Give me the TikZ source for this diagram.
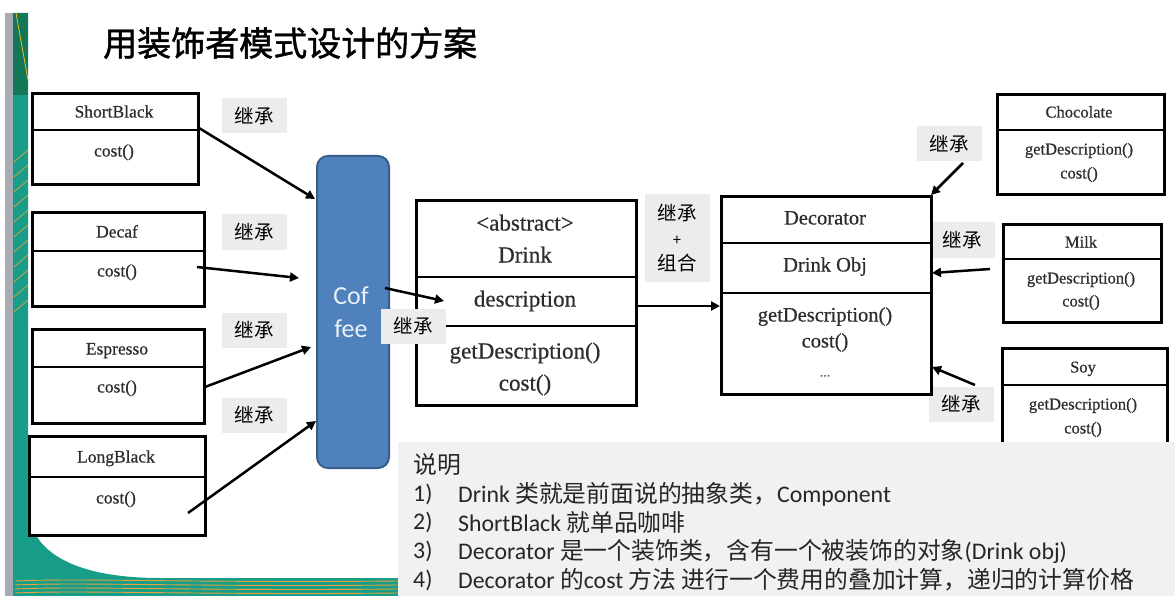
\documentclass[tikz,border=0pt]{standalone}
\usepackage{fontspec}
\usetikzlibrary{arrows.meta}
\setmainfont{Liberation Serif}[FakeBold=0.6]
\newfontfamily\cjk{Noto Sans CJK SC}
\newfontfamily\cjktitle{Noto Sans CJK SC}[FakeBold=1.3]
\newfontfamily\calfont{Carlito}
\definecolor{tealA}{RGB}{24,158,136}
\definecolor{greenA}{RGB}{18,120,88}
\definecolor{stripG}{RGB}{170,170,180}
\definecolor{orangeA}{RGB}{235,160,60}
\definecolor{coffeeF}{RGB}{79,129,189}
\definecolor{coffeeB}{RGB}{56,93,138}
\definecolor{lblbg}{RGB}{236,236,236}
\definecolor{notebg}{RGB}{241,241,241}
\definecolor{txtgray}{RGB}{45,45,45}
\tikzset{
  umlbox/.style={draw=black, line width=2.6pt, inner sep=0pt, anchor=north west, fill=white},
  divl/.style={draw=black, line width=2.6pt},
  utxt/.style={inner sep=0pt, text=txtgray, text height=0.7em, text depth=0.2em, yshift=-4pt},
  tA/.style={utxt, font=\fontsize{17.5}{20}\selectfont},
  tB/.style={utxt, font=\fontsize{23}{26}\selectfont},
  tC/.style={utxt, font=\fontsize{20.5}{24}\selectfont},
  tD/.style={utxt, font=\fontsize{16.5}{19}\selectfont},
  lbl/.style={fill=lblbg, inner sep=0pt, minimum width=65pt, minimum height=35pt, font=\cjk\fontsize{19.5}{22}\selectfont},
  arr/.style={draw=black, line width=2.5pt, -{Triangle[length=9pt,width=9pt]}},
  note/.style={anchor=west, inner sep=0pt, text=black!85, font=\fontsize{23.8}{27}\selectfont},
  notenum/.style={note, font=\calfont\fontsize{23.8}{27}\selectfont}
}
\begin{document}
\begin{tikzpicture}[x=1pt,y=-1pt]
\useasboundingbox (0,0) rectangle (1175,596);
\fill[white] (0,0) rectangle (1175,596);
% left decoration
\fill[stripG] (5,13) rectangle (13,596);
\fill[tealA] (13,13) -- (28,13) -- (28,505) .. controls (28,555) and (80,578) .. (160,578) -- (398,578) -- (398,596) -- (13,596) -- cycle;
\fill[greenA] (13,13) rectangle (28,95);
\draw[orangeA!70!yellow, line width=0.8pt] (16,13) -- (28,80);
\foreach \yy in {150,165,180,195,210,225,240,255,270,285,300} {
  \draw[orangeA, line width=0.7pt] (14,\yy+12) -- (28,\yy);
}
\foreach \yy in {581,585,589,593} {
  \draw[orangeA, line width=0.9pt] (15,\yy) .. controls (80,\yy-3) and (200,\yy+2) .. (398,\yy);
}
% title
\node[anchor=west, inner sep=0pt, font=\cjktitle\fontsize{34}{40}\selectfont] (title) at (103,43) {用装饰者模式设计的方案};
% labels
\node[lbl] (l1) at (254,116) {继承};
\node[lbl] (l2) at (254,232) {继承};
\node[lbl] (l3) at (254,330) {继承};
\node[lbl] (l4) at (254,415) {继承};
\node[lbl, minimum height=87pt, align=center, font=\cjk\fontsize{19.5}{25}\selectfont] (l6) at (677,238) {继承\\{\fontsize{15}{18}\selectfont +}\\组合};
\node[lbl] (l7) at (949,144) {继承};
\node[lbl] (l8) at (962,240) {继承};
\node[lbl] (l9) at (961,404) {继承};
% left boxes
\node[umlbox, minimum width=166pt, minimum height=91pt] (sb) at (31,92) {};
\draw[divl] (31,130) -- (197,130);
\node[tA] (sbt) at (114,111) {ShortBlack};
\node[tA] (sbc) at (114,150) {cost()};
\node[umlbox, minimum width=172pt, minimum height=94pt] (dc) at (31,211) {};
\draw[divl] (31,251) -- (203,251);
\node[tA] (dct) at (117,231) {Decaf};
\node[tA] (dcc) at (117,270) {cost()};
\node[umlbox, minimum width=172pt, minimum height=94pt] (es) at (31,328) {};
\draw[divl] (31,367) -- (203,367);
\node[tA] (est) at (117,348) {Espresso};
\node[tA] (esc) at (117,386) {cost()};
\node[umlbox, minimum width=176pt, minimum height=99pt] (lb) at (28,435) {};
\draw[divl] (28,477) -- (204,477);
\node[tA] (lbt) at (116,456) {LongBlack};
\node[tA] (lbc) at (116,497) {cost()};
% coffee
\node[draw=coffeeB, fill=coffeeF, line width=2pt, rounded corners=11pt, minimum width=72pt, minimum height=312pt, anchor=north west, inner sep=0pt] (coffee) at (316,155) {};
\node[inner sep=0pt, text=white!88!coffeeF, font=\calfont\fontsize{26}{30}\selectfont] (cof1) at (351,296) {Cof};
\node[inner sep=0pt, text=white!88!coffeeF, font=\calfont\fontsize{26}{30}\selectfont] (cof2) at (351,329) {fee};
% drink
\node[umlbox, minimum width=220pt, minimum height=205pt] (drink) at (415,199) {};
\draw[divl] (415,277) -- (635,277);
\draw[divl] (415,326) -- (635,326);
\node[tB] (dr1) at (525,224) {<abstract>};
\node[tB] (dr2) at (525,256) {Drink};
\node[tB] (dr3) at (525,300) {description};
\node[tB] (dr4) at (525,352) {getDescription()};
\node[tB] (dr5) at (525,384) {cost()};
\node[lbl] (l5) at (413,326) {继承};
% decorator
\node[umlbox, minimum width=210pt, minimum height=198pt] (deco) at (720,195) {};
\draw[divl] (720,243) -- (930,243);
\draw[divl] (720,293) -- (930,293);
\node[tC] (de1) at (825,218) {Decorator};
\node[tC] (de2) at (825,265) {Drink Obj};
\node[tC] (de3) at (825,315) {getDescription()};
\node[tC] (de4) at (825,341) {cost()};
\node[tC, font=\fontsize{14}{16}\selectfont, text=black!60] (de5) at (825,370) {...};
% right boxes
\node[umlbox, minimum width=167pt, minimum height=100pt] (ch) at (996,93) {};
\draw[divl] (996,130) -- (1163,130);
\node[tD] (ch1) at (1079,111) {Chocolate};
\node[tD] (ch2) at (1079,148) {getDescription()};
\node[tD] (ch3) at (1079,172) {cost()};
\node[umlbox, minimum width=158pt, minimum height=98pt] (mk) at (1002,223) {};
\draw[divl] (1002,259) -- (1160,259);
\node[tD] (mk1) at (1081,241) {Milk};
\node[tD] (mk2) at (1081,277) {getDescription()};
\node[tD] (mk3) at (1081,300) {cost()};
\node[umlbox, minimum width=165pt, minimum height=120pt] (sy) at (1001,347) {};
\draw[divl] (1001,385) -- (1166,385);
\node[tD] (sy1) at (1083,366) {Soy};
\node[tD] (sy2) at (1083,403) {getDescription()};
\node[tD] (sy3) at (1083,427) {cost()};
% arrows
\coordinate (a1s) at (199,128); \coordinate (a1e) at (315,199);
\coordinate (a2s) at (197,267); \coordinate (a2e) at (299,278);
\coordinate (a3s) at (205,387); \coordinate (a3e) at (311,347);
\coordinate (a4s) at (188,513); \coordinate (a4e) at (316,421);
\coordinate (a5s) at (385,288); \coordinate (a5e) at (444,301);
\coordinate (a6s) at (635,306); \coordinate (a6e) at (720,306);
\coordinate (a7s) at (963,163); \coordinate (a7e) at (931,195);
\coordinate (a8s) at (990,269); \coordinate (a8e) at (932,273);
\coordinate (a9s) at (975,385); \coordinate (a9e) at (932,367);
\draw[arr] (a1s) -- (a1e);
\draw[arr] (a2s) -- (a2e);
\draw[arr] (a3s) -- (a3e);
\draw[arr] (a4s) -- (a4e);
\draw[arr] (a5s) -- (a5e);
\draw[arr] (a6s) -- (a6e);
\draw[arr] (a7s) -- (a7e);
\draw[arr] (a8s) -- (a8e);
\draw[arr] (a9s) -- (a9e);
% explanation
\node[fill=notebg, inner sep=0pt, minimum width=777pt, minimum height=154pt, anchor=north west] (notebox) at (398,442) {};
\node[note] (n0) at (413,465) {\cjk 说明};
\node[notenum] (n1a) at (413,494) {1)};
\node[notenum] (n2a) at (413,522) {2)};
\node[notenum] (n3a) at (413,551) {3)};
\node[notenum] (n4a) at (413,580) {4)};
\node[note] (n1) at (458,494) {{\calfont Drink }{\cjk 类就是前面说的抽象类，}{\calfont Component}};
\node[note] (n2) at (458,522) {{\calfont ShortBlack }{\cjk 就单品咖啡}};
\node[note] (n3) at (458,551) {{\calfont Decorator }{\cjk 是一个装饰类，含有一个被装饰的对象}{\calfont (Drink obj)}};
\node[note] (n4) at (458,580) {{\calfont Decorator }{\cjk 的}{\calfont cost }{\cjk 方法 进行一个费用的叠加计算，递归的计算价格}};
\end{tikzpicture}
\end{document}
